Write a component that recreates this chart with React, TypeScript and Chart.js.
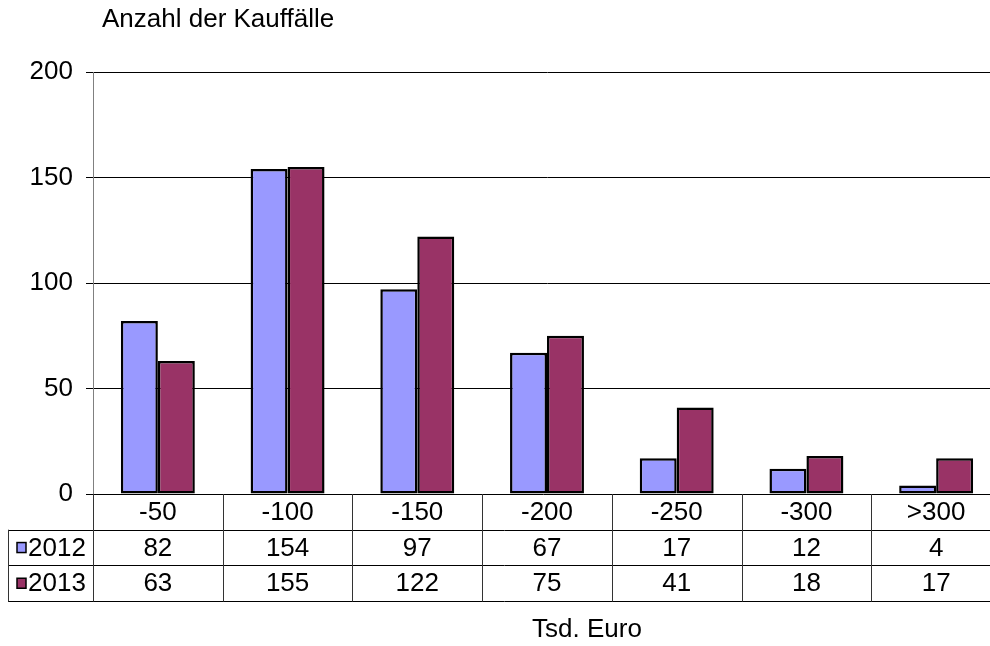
import React, { useEffect, useRef } from "react";
import { Chart, registerables } from "chart.js";

Chart.register(...registerables);

const categories = ["-50", "-100", "-150", "-200", "-250", "-300", ">300"];
const values2012 = [82, 154, 97, 67, 17, 12, 4];
const values2013 = [63, 155, 122, 75, 41, 18, 17];
const seriesNames = ["2012", "2013"];
const seriesColors = ["#9999FF", "#993366"];
const yTitle = "Anzahl der Kauffälle";
const xTitle = "Tsd. Euro";

const FONT = "'Liberation Sans', Arial, sans-serif";
const FS = 26;

const tablePlugin = {
  id: "dataTable",
  afterDraw(chart: any) {
    const ctx = chart.ctx;
    const area = chart.chartArea;
    const xs = chart.scales.x;
    const n = categories.length;
    const w = (area.right - area.left) / n;
    const y0 = area.bottom;
    const rowH = 35.7;
    const r1 = y0 + rowH;
    const r2 = r1 + rowH;
    const r3 = r2 + rowH;
    const tableLeft = 8;
    ctx.save();
    ctx.strokeStyle = "#000";
    ctx.lineWidth = 1;
    const hline = (x1: number, x2: number, y: number) => {
      ctx.beginPath();
      ctx.moveTo(x1, Math.round(y) + 0.5);
      ctx.lineTo(x2, Math.round(y) + 0.5);
      ctx.stroke();
    };
    const vline = (x: number, ya: number, yb: number) => {
      ctx.beginPath();
      ctx.moveTo(Math.round(x) + 0.5, ya);
      ctx.lineTo(Math.round(x) + 0.5, yb);
      ctx.stroke();
    };
    hline(area.left - 7, area.right, y0);
    hline(tableLeft, area.right, r1);
    hline(tableLeft, area.right, r2);
    hline(tableLeft, area.right, r3);
    ctx.strokeStyle = "#333";
    vline(tableLeft, r1, r3 + 0.5);
    vline(area.left, y0, r3 + 0.5);
    for (let k = 1; k < n; k++) {
      vline(area.left + k * w, y0, r3 + 0.5);
    }
    ctx.fillStyle = "#000";
    ctx.font = `${FS}px ${FONT}`;
    ctx.textAlign = "center";
    ctx.textBaseline = "middle";
    for (let i = 0; i < n; i++) {
      const cx = xs.getPixelForValue(i);
      ctx.fillText(categories[i], cx, (y0 + r1) / 2 + 1);
      ctx.fillText(String(values2012[i]), cx, (r1 + r2) / 2 + 1);
      ctx.fillText(String(values2013[i]), cx, (r2 + r3) / 2 + 1);
    }
    const rows = [(r1 + r2) / 2, (r2 + r3) / 2];
    rows.forEach((ym, j) => {
      ctx.fillStyle = seriesColors[j];
      ctx.fillRect(17, ym - 5, 9, 10);
      ctx.strokeStyle = "#000";
      ctx.lineWidth = 1.5;
      ctx.strokeRect(17, ym - 5, 9, 10);
      ctx.fillStyle = "#000";
      ctx.textAlign = "left";
      ctx.fillText(seriesNames[j], 28, ym + 1);
    });
    ctx.textAlign = "left";
    ctx.fillText(yTitle, 102, 20);
    ctx.textAlign = "center";
    ctx.fillText(xTitle, 587, 630);
    ctx.restore();
  },
};

export default function App() {
  const ref = useRef<HTMLCanvasElement | null>(null);
  useEffect(() => {
    if (!ref.current) return;
    const chart = new Chart(ref.current, {
      type: "bar",
      data: {
        labels: categories,
        datasets: [
          {
            label: seriesNames[0],
            data: values2012,
            backgroundColor: seriesColors[0],
            borderColor: "#000",
            borderWidth: 2.5,
            borderSkipped: false,
          },
          {
            label: seriesNames[1],
            data: values2013,
            backgroundColor: seriesColors[1],
            borderColor: "#000",
            borderWidth: 2.5,
            borderSkipped: false,
          },
        ],
      },
      options: {
        responsive: false,
        animation: false,
        layout: { padding: { top: 72, bottom: 152, left: 0, right: 9 } },
        datasets: { bar: { categoryPercentage: 0.57, barPercentage: 1 } },
        plugins: {
          legend: { display: false },
          tooltip: { enabled: false },
          title: { display: false },
        },
        scales: {
          x: {
            display: false,
            grid: { display: false },
          },
          y: {
            min: 0,
            max: 200,
            afterFit: (axis: any) => {
              axis.width = 93;
            },
            ticks: {
              stepSize: 50,
              color: "#000",
              padding: 13,
              font: { family: FONT, size: FS },
            },
            grid: {
              color: (c: any) => (c.tick && c.tick.value === 0 ? "rgba(0,0,0,0)" : "#000"),
              tickColor: "#000",
              tickLength: 7,
              lineWidth: 1,
            },
            border: { display: true, color: "#808080", width: 1 },
          },
        },
      },
      plugins: [tablePlugin],
    });
    return () => chart.destroy();
  }, []);
  return (
    <div
      style={{
        position: "fixed",
        left: 0,
        top: 0,
        width: 990,
        height: 646,
        overflow: "hidden",
        background: "#fff",
      }}
    >
      <canvas ref={ref} width={1010} height={646} style={{ display: "block", width: 1010, height: 646 }} />
    </div>
  );
}
